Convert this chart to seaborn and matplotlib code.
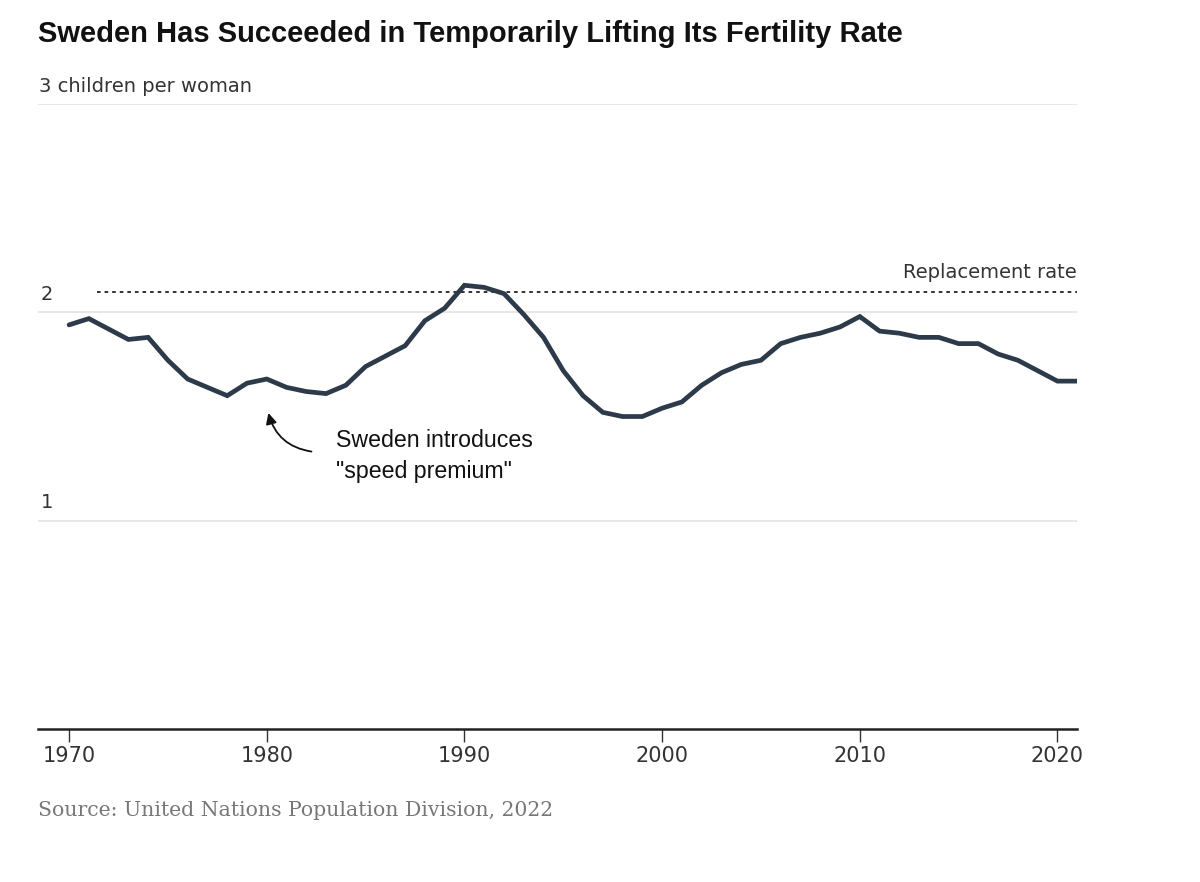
import matplotlib
matplotlib.use("Agg")
import matplotlib.pyplot as plt
import seaborn as sns
import pandas as pd

# Total fertility rate, Sweden
years = list(range(1970, 2022))
fertility = [
    1.94, 1.97, 1.92, 1.87, 1.88, 1.77, 1.68, 1.64, 1.60, 1.66,
    1.68, 1.64, 1.62, 1.61, 1.65, 1.74, 1.79, 1.84, 1.96, 2.02,
    2.13, 2.12, 2.09, 1.99, 1.88, 1.72, 1.60, 1.52, 1.50, 1.50,
    1.54, 1.57, 1.65, 1.71, 1.75, 1.77, 1.85, 1.88, 1.90, 1.93,
    1.98, 1.91, 1.90, 1.88, 1.88, 1.85, 1.85, 1.80, 1.77, 1.72,
    1.67, 1.67,
]
replacement_rate = 2.1
replacement_start = 1971.4
y_ticks = [1, 2, 3]
x_ticks = [1970, 1980, 1990, 2000, 2010, 2020]

df = pd.DataFrame({"year": years, "tfr": fertility})

sns.set_style("white")
body = ["DejaVu Sans"]
plt.rcParams["font.family"] = ["Liberation Sans", "DejaVu Sans"]

fig = plt.figure(figsize=(12, 8.82), dpi=100)
ax = fig.add_axes([0.0317, 0.1735, 0.866, 0.7085])

# gridlines
for v in y_ticks:
    ax.axhline(v, color="#e3e3e3", lw=1.2, zorder=0)

sns.lineplot(data=df, x="year", y="tfr", ax=ax, color="#2d3a4a", lw=3.4,
             solid_joinstyle="miter", zorder=3)

# replacement rate
ax.plot([replacement_start, years[-1]], [replacement_rate, replacement_rate],
        color="#222222", lw=1.3, ls=(0, (2, 2.2)), zorder=2)
ax.text(years[-1], replacement_rate + 0.045, "Replacement rate", ha="right",
        va="bottom", fontsize=14, color="#333333", family=body)

ax.set_xlim(1968.43, 2021.0)
ax.set_ylim(0, 3)
ax.set_xlabel("")
ax.set_ylabel("")
ax.set_yticks([])
ax.set_xticks(x_ticks)
ax.set_xticklabels([str(x) for x in x_ticks], family=body, fontsize=15,
                   color="#333333")
ax.tick_params(axis="x", direction="out", length=9, width=1, color="#333333",
               pad=3, bottom=True)
for s in ["top", "right", "left"]:
    ax.spines[s].set_visible(False)
ax.spines["bottom"].set_color("#222222")
ax.spines["bottom"].set_linewidth(1.8)

# y labels above gridlines
ax.text(1968.5, 3.04, "3 children per woman", ha="left", va="bottom",
        fontsize=14, color="#333333", family=body)
for v in [1, 2]:
    ax.text(1968.55, v + 0.04, str(v), ha="left", va="bottom", fontsize=14,
            color="#333333", family=body)

# annotation
ax.annotate("", xy=(1980.05, 1.53), xytext=(1982.4, 1.33),
            arrowprops=dict(arrowstyle="-|>", color="#111111", lw=1.3,
                            connectionstyle="arc3,rad=-0.35",
                            mutation_scale=16))
ax.text(1983.48, 1.31, "Sweden introduces\n\"speed premium\"",
        ha="left", va="center", fontsize=16.7, color="#111111",
        linespacing=1.45)

fig.text(0.0317, 0.962, "Sweden Has Succeeded in Temporarily Lifting Its Fertility Rate",
         ha="left", va="center", fontsize=21, fontweight="bold", color="#111111")
fig.text(0.0317, 0.081, "Source: United Nations Population Division, 2022",
         ha="left", va="center", fontsize=14.7, color="#777777",
         family=["DejaVu Serif"])

fig.savefig("out.png", dpi=100, facecolor="white")
